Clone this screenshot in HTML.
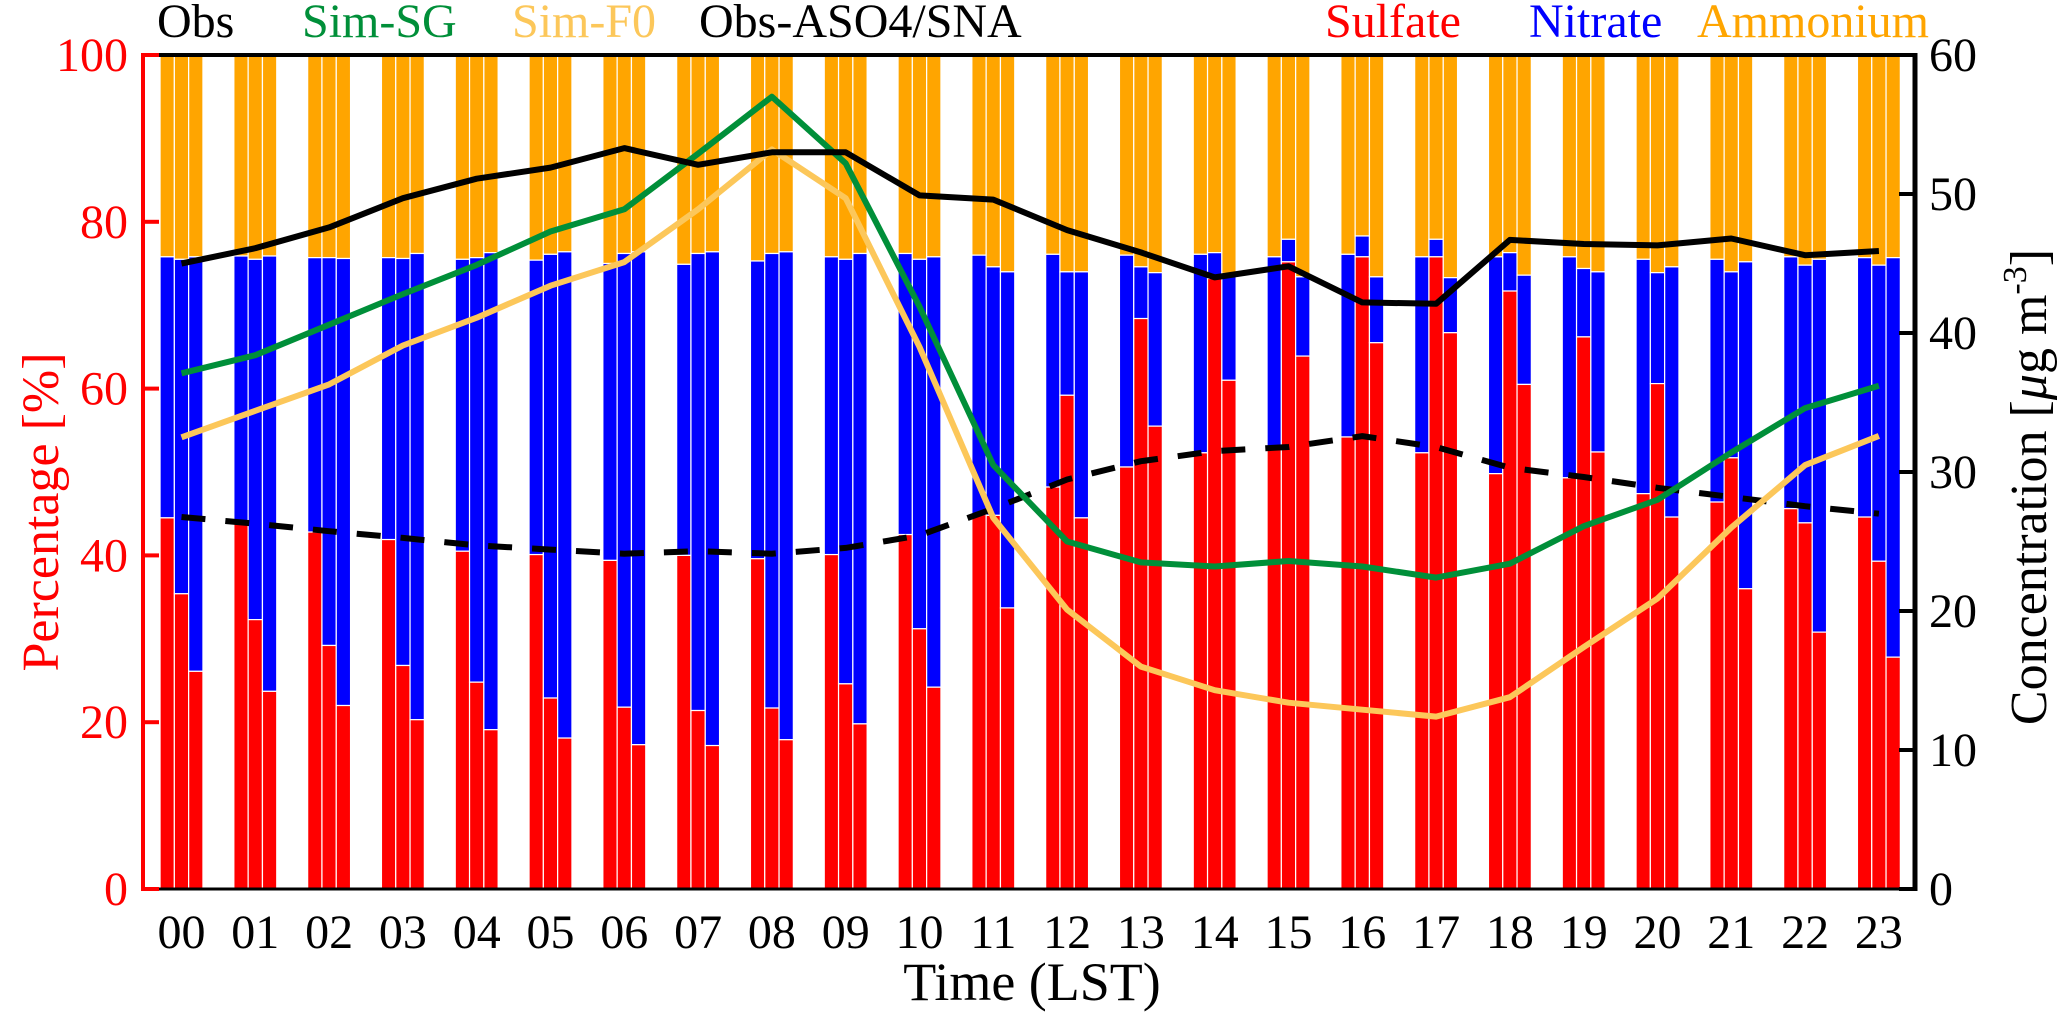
<!DOCTYPE html>
<html><head><meta charset="utf-8"><style>
html,body{margin:0;padding:0;background:#fff;}
svg text{font-family:"Liberation Serif",serif;}
</style></head><body>
<svg id="chart" width="2057" height="1013" viewBox="0 0 2057 1013" xmlns="http://www.w3.org/2000/svg">
<g id="bars"></g>
<g id="lines"></g>
<g id="axes"></g>
<g id="legend"></g>
<text transform="translate(2046,487) rotate(-90)" text-anchor="middle" font-size="52" fill="#000">Concentration [<tspan font-style="italic">μ</tspan>g m<tspan dy="-20" font-size="34">-3</tspan><tspan dy="20">]</tspan></text>
</svg>
<script>
const hours=["00","01","02","03","04","05","06","07","08","09","10","11","12","13","14","15","16","17","18","19","20","21","22","23"];
const obsSulfate=[44.5,43.8,42.8,41.9,40.5,40.1,39.4,40.0,39.6,40.1,42.5,44.9,48.2,50.6,52.3,52.8,54.2,52.3,49.8,49.3,47.4,46.4,45.6,44.6];
const obsNitrate=[75.8,75.9,75.7,75.7,75.5,75.4,75.0,74.9,75.3,75.8,76.2,76.0,76.1,76.0,76.1,75.8,76.1,75.8,75.8,75.8,75.5,75.5,75.8,75.7];
const sgSulfate=[35.4,32.3,29.2,26.8,24.8,22.9,21.8,21.4,21.7,24.6,31.2,44.8,59.2,68.4,73.2,75.2,75.8,75.8,71.7,66.2,60.6,51.7,43.9,39.3];
const sgNitrate=[75.5,75.5,75.7,75.6,75.7,76.1,76.2,76.2,76.2,75.5,75.5,74.6,74.0,74.6,76.3,77.9,78.3,77.9,76.3,74.4,73.9,74.0,74.8,74.8];
const f0Sulfate=[26.1,23.7,22.0,20.3,19.1,18.1,17.3,17.2,17.9,19.8,24.2,33.7,44.5,55.5,61.0,63.9,65.5,66.7,60.5,52.4,44.6,36.0,30.8,27.8];
const f0Nitrate=[75.8,75.9,75.6,76.2,76.3,76.4,76.4,76.4,76.4,76.2,75.8,74.0,74.0,73.9,73.8,73.4,73.4,73.3,73.6,74.0,74.6,75.2,75.5,75.7];
const obsConc=[45.0,46.1,47.6,49.7,51.1,51.9,53.3,52.1,53.0,53.0,49.9,49.6,47.4,45.8,44.0,44.8,42.2,42.1,46.7,46.4,46.3,46.8,45.6,45.9];
const sgConc=[37.1,38.4,40.6,42.8,44.9,47.3,48.9,52.9,57.0,52.2,41.9,30.5,25.0,23.5,23.2,23.6,23.2,22.4,23.4,26.1,28.0,31.4,34.6,36.2];
const f0Conc=[32.5,34.4,36.3,39.1,41.1,43.4,45.1,48.9,53.2,49.7,39.0,26.7,20.1,16.0,14.3,13.4,12.9,12.4,13.8,17.4,20.9,26.0,30.5,32.6];
const obsRatio=[44.6,43.8,42.9,42.1,41.2,40.7,40.2,40.5,40.2,40.9,42.4,45.6,49.1,51.3,52.5,53.0,54.3,53.0,50.5,49.4,48.1,47.0,45.9,45.0];
const pctTicks=[0,20,40,60,80,100];
const concTicks=[0,10,20,30,40,50,60];

const NS="http://www.w3.org/2000/svg";
const X0=181.5, DX=73.8, YB=889, YT=55, BW=14.3;
const xPos=i=>X0+i*DX;
const yPct=v=>YB-(v/100)*(YB-YT);
const yConc=v=>YB-(v/60)*(YB-YT);
function mk(tag,attrs,parent){const e=document.createElementNS(NS,tag);for(const k in attrs)e.setAttribute(k,attrs[k]);parent.appendChild(e);return e;}
const gB=document.getElementById('bars'),gL=document.getElementById('lines'),gA=document.getElementById('axes'),gLeg=document.getElementById('legend');
const runs=[["obs",obsSulfate,obsNitrate,-1],["sim-sg",sgSulfate,sgNitrate,0],["sim-f0",f0Sulfate,f0Nitrate,1]];
hours.forEach((h,i)=>{
  runs.forEach(([nm,S,N,off])=>{
    const x=xPos(i)+off*BW-BW/2;
    const segs=[["ammonium",N[i],100,"#ffa500"],["nitrate",S[i],N[i],"#0000ff"],["sulfate",0,S[i],"#ff0000"]];
    segs.forEach(([sn,a,b,c])=>{
      const r=mk('rect',{x:x,y:yPct(b),width:BW,height:yPct(a)-yPct(b),fill:c,stroke:"#fff","stroke-width":1.2},gB);
      
      
    });
  });
});
function line(arr,yf,color,name,dash){
  const d=arr.map((v,i)=>(i?'L':'M')+xPos(i).toFixed(1)+','+yf(v).toFixed(1)).join(' ');
  const p=mk('path',{d:d,fill:"none",stroke:color,"stroke-width":6,"stroke-linejoin":"round"},gL);
  if(dash)p.setAttribute('stroke-dasharray',dash);
  
  
}
line(obsRatio,yPct,"#000","line-obs-aso4-sna","24,20");
line(f0Conc,yConc,"#fcc75a","line-sim-f0");
line(sgConc,yConc,"#008f39","line-sim-sg");
line(obsConc,yConc,"#000","line-obs");
let e;
e=mk('line',{x1:143,y1:YT,x2:1915,y2:YT,stroke:"#000","stroke-width":4},gA);

e=mk('line',{x1:143,y1:YB,x2:1915,y2:YB,stroke:"#000","stroke-width":3},gA);

e=mk('line',{x1:143,y1:YT-2,x2:143,y2:YB+2,stroke:"#ff0000","stroke-width":4},gA);

e=mk('line',{x1:1915,y1:YT-2,x2:1915,y2:YB+2,stroke:"#000","stroke-width":5},gA);

pctTicks.forEach(v=>{
  const t=mk('line',{x1:143,y1:yPct(v),x2:159,y2:yPct(v),stroke:"#ff0000","stroke-width":4},gA);
  
  
  const l=mk('text',{x:128,y:yPct(v)+16,"text-anchor":"end","font-size":48,fill:"#ff0000"},gA);
  l.textContent=v;
  
  
});
concTicks.forEach(v=>{
  const t=mk('line',{x1:1899,y1:yConc(v),x2:1915,y2:yConc(v),stroke:"#000","stroke-width":4},gA);
  
  
  const l=mk('text',{x:1929,y:yConc(v)+16,"font-size":48,fill:"#000"},gA);
  l.textContent=v;
  
  
});
hours.forEach((h,i)=>{
  const l=mk('text',{x:xPos(i),y:948,"text-anchor":"middle","font-size":48,fill:"#000"},gA);
  l.textContent=h;
  
  
});
// titles
const tx=mk('text',{x:1032,y:1000,"text-anchor":"middle","font-size":54,fill:"#000"},gA);
tx.textContent="Time (LST)";


const ty=mk('text',{transform:"translate(58,512) rotate(-90)","text-anchor":"middle","font-size":52,fill:"#ff0000"},gA);
ty.textContent="Percentage [%]";


// legend
const legLabels=["Obs","Sim-SG","Sim-F0","Obs-ASO4/SNA","Sulfate","Nitrate","Ammonium"];
const legColors=["#000","#008f39","#fcc75a","#000","#ff0000","#0000ff","#ffa500"];
const legX=[157,302,512,699,1325,1529,1697];
legLabels.forEach((t,i)=>{
  const l=mk('text',{x:legX[i],y:37,"font-size":48,fill:legColors[i]},gLeg);
  l.textContent=t;
  
  
});
</script>
</body></html>
